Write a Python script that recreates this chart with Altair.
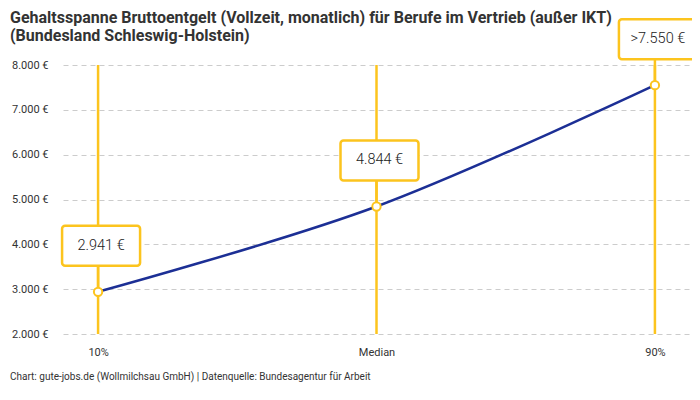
import altair as alt
import pandas as pd

# Data
categories = ["10%", "Median", "90%"]
values = [2941, 4844, 7550]
box_labels = ["2.941 €", "4.844 €", ">7.550 €"]
y_ticks = [2000, 3000, 4000, 5000, 6000, 7000, 8000]
y_min, y_max = 2000, 8000

title_line1 = "Gehaltsspanne Bruttoentgelt (Vollzeit, monatlich) für Berufe im Vertrieb (außer IKT)"
title_line2 = "(Bundesland Schleswig-Holstein)"
footer_text = "Chart: gute-jobs.de (Wollmilchsau GmbH) | Datenquelle: Bundesagentur für Arbeit"

df = pd.DataFrame({"cat": categories, "value": values, "label": box_labels,
                   "lo": [y_min] * 3, "hi": [y_max] * 3})

YELLOW = "#fcc41e"
BLUE = "#1c2f95"
FONT = "Roboto"

W, H = 627, 269

x_enc = alt.X("cat:N", sort=categories, title=None,
              scale=alt.Scale(type="point", padding=0.126),
              axis=alt.Axis(labelAngle=0, domain=False, ticks=False, labelPadding=12,
                            labelFontSize=11, labelColor="#333", labelFont=FONT, grid=False))
y_scale = alt.Scale(domain=[y_min, y_max], nice=False, zero=False)
y_axis = alt.Axis(values=y_ticks, domain=False, ticks=False, labelPadding=15,
                  labelFontSize=11, labelColor="#333", labelFont=FONT,
                  grid=True, gridColor="#cccccc", gridDash=[5, 4], gridWidth=1,
                  labelExpr="replace(format(datum.value, ',d'), ',', '.') + ' €'")

base = alt.Chart(df)

rules = base.mark_rule(color=YELLOW, strokeWidth=2.5).encode(
    x=x_enc,
    y=alt.Y("lo:Q", scale=y_scale, axis=y_axis, title=None),
    y2="hi:Q",
)

rules_up = base.mark_rule(color=YELLOW, strokeWidth=2.5, y2Offset=-46).encode(
    x=x_enc,
    y=alt.Y("value:Q", scale=y_scale, axis=y_axis, title=None),
    y2="value:Q",
)

line = base.mark_line(color=BLUE, strokeWidth=2.5, interpolate="cardinal").encode(
    x=x_enc,
    y=alt.Y("value:Q", scale=y_scale, axis=y_axis, title=None),
)

points = base.mark_point(shape="circle", filled=True, fill="white", stroke=YELLOW,
                         strokeWidth=2, size=70, opacity=1).encode(
    x=x_enc,
    y=alt.Y("value:Q", scale=y_scale, axis=y_axis, title=None),
)

boxes = base.mark_rect(width=78, height=40, cornerRadius=3, fill="white",
                       stroke=YELLOW, strokeWidth=2.5, xOffset=3, yOffset=-46).encode(
    x=x_enc,
    y=alt.Y("value:Q", scale=y_scale, axis=y_axis, title=None),
)

texts = base.mark_text(fontSize=14.5, font=FONT, fontWeight=300, color="#222",
                       dx=3, dy=-46, align="center", baseline="middle").encode(
    x=x_enc,
    y=alt.Y("value:Q", scale=y_scale, axis=y_axis, title=None),
    text="label:N",
)

title1 = alt.Chart(pd.DataFrame({"t": [title_line1]})).mark_text(
    fontSize=16, font=FONT, fontWeight="bold", color="#333", align="left",
    baseline="alphabetic"
).encode(x=alt.value(-53), y=alt.value(-42), text="t:N")

title2 = alt.Chart(pd.DataFrame({"t": [title_line2]})).mark_text(
    fontSize=16, font=FONT, fontWeight="bold", color="#333", align="left",
    baseline="alphabetic"
).encode(x=alt.value(-53), y=alt.value(-24), text="t:N")

footer = alt.Chart(pd.DataFrame({"t": [footer_text]})).mark_text(
    fontSize=10, font=FONT, color="#333", align="left", baseline="middle"
).encode(x=alt.value(-53), y=alt.value(H + 43), text="t:N")

chart = alt.layer(rules, rules_up, line, points, boxes, texts, title1, title2, footer).properties(
    width=W, height=H,
    autosize=alt.AutoSizeParams(type="none"),
    padding={"left": 55, "top": 57, "right": 2, "bottom": 60},
).configure_view(stroke=None)

chart.save("out.html", embed_options={"renderer": "svg", "actions": False})
